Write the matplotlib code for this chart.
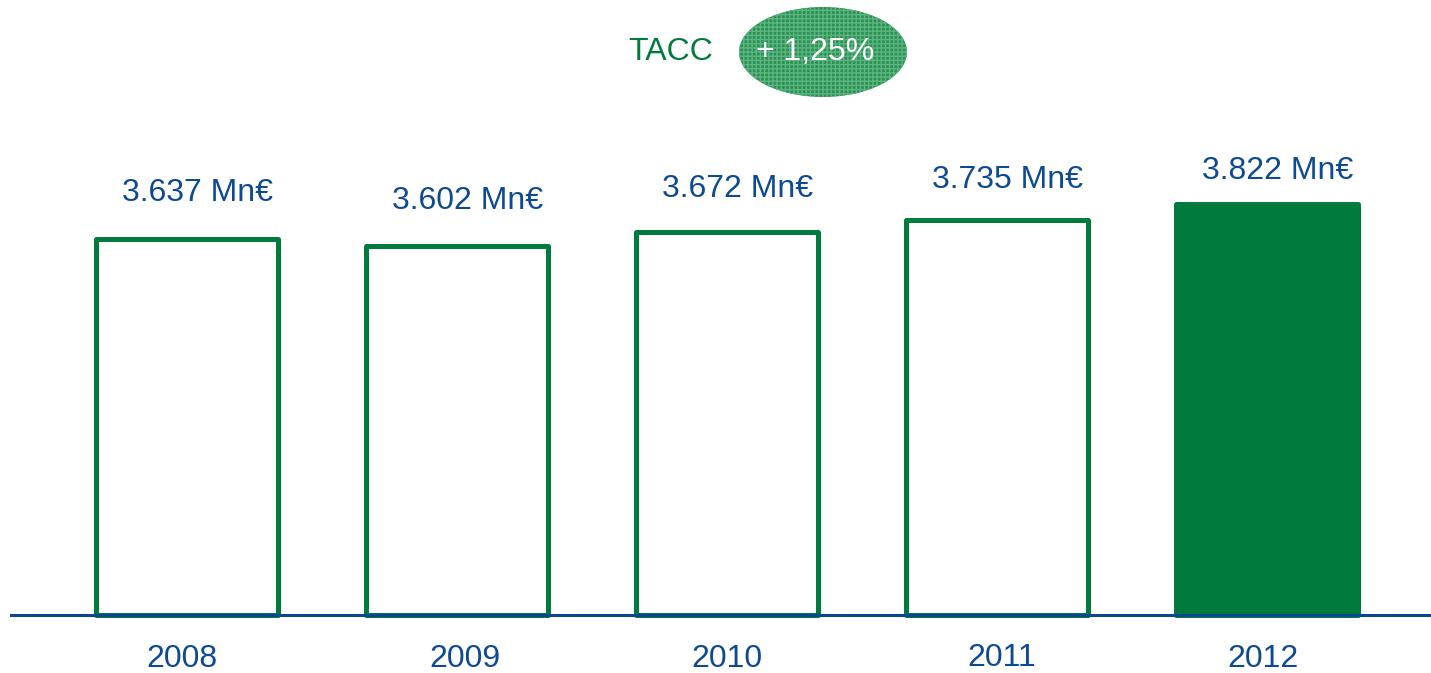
import matplotlib
matplotlib.use("Agg")
import matplotlib.pyplot as plt
from matplotlib.patches import Ellipse

plt.rcParams['font.family'] = ['Liberation Sans', 'DejaVu Sans']

years = ['2008', '2009', '2010', '2011', '2012']
values = [3637, 3602, 3672, 3735, 3822]
value_labels = ['3.637 Mn€', '3.602 Mn€', '3.672 Mn€', '3.735 Mn€', '3.822 Mn€']
label_offsets = [33, 32, 31, 29, 24]  # points above bar top
year_dx = [-5, 8, 0, 5, -4]  # pixel nudges of year labels
year_dy = [0, 0, 0, 1, 0]
growth_label = 'TACC'
growth_value = '+ 1,25%'

GREEN = '#007a3d'
NAVY = '#0b4690'
TEXT = '#0d4a91'
FS = 23

W, H = 1431, 673
fig = plt.figure(figsize=(W / 100, H / 100), dpi=100)
ax = fig.add_axes([11 / W, (H - 615) / H, 1420 / W, 615 / H])

x = list(range(len(years)))
for i, (xi, v) in enumerate(zip(x, values)):
    last = i == len(values) - 1
    ax.bar(xi, v - 1648, bottom=1648, width=0.674,
           facecolor=GREEN if last else 'white', edgecolor=GREEN,
           linewidth=3.6, joinstyle='round', clip_on=False, zorder=1)
    ax.annotate(value_labels[i], (xi + 0.04, v), xytext=(0, label_offsets[i]),
                textcoords='offset points', ha='center', va='center',
                fontsize=FS, color=TEXT)
    ax.annotate(years[i], (xi, 1648), xytext=(year_dx[i] * 0.72, -32 + year_dy[i] * 0.72),
                textcoords='offset points', ha='center', va='center',
                fontsize=FS, color=TEXT, annotation_clip=False)

ax.set_xlim(-0.652, 4.607)
ax.set_ylim(1648, 4901)
ax.set_xticks([])
ax.set_yticks([])
for s in ['left', 'right', 'top']:
    ax.spines[s].set_visible(False)
ax.spines['bottom'].set_color(NAVY)
ax.spines['bottom'].set_linewidth(2.2)
ax.spines['bottom'].set_zorder(3)
ax.patch.set_visible(False)

fig.text(671 / W, 1 - 52 / H, growth_label, ha='center', va='center',
         fontsize=FS, color=GREEN)
ell = Ellipse((823 / W, 1 - 52 / H), 168 / W, 90 / H, transform=fig.transFigure,
              facecolor='#2b9155', edgecolor='#5cb47f', hatch='++++', linewidth=0)
fig.add_artist(ell)
fig.text(815 / W, 1 - 52 / H, growth_value, ha='center', va='center',
         fontsize=FS, color='white')

fig.savefig('out.png', dpi=100, facecolor='white')
